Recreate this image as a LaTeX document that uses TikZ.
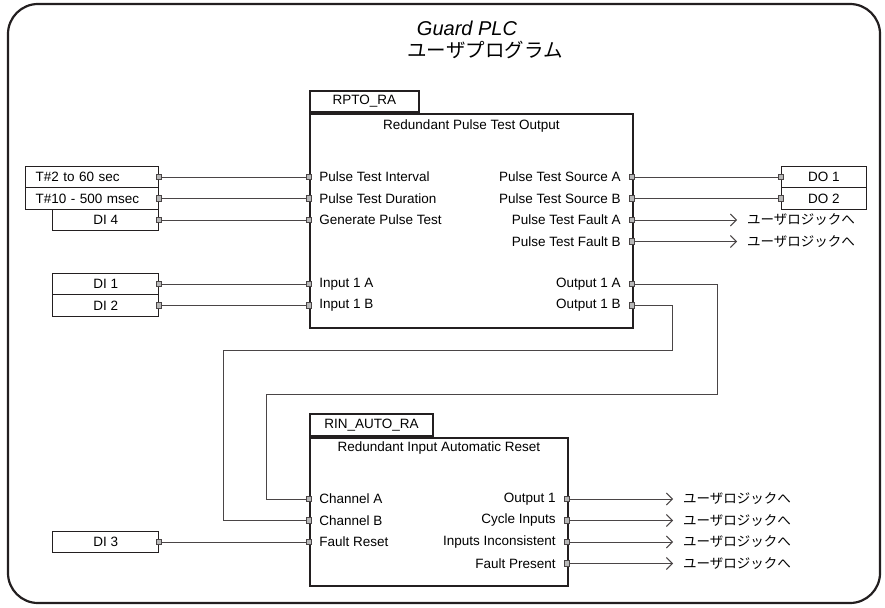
\documentclass[tikz,border=0pt]{standalone}
\usepackage{fontspec}
\setmainfont{Liberation Sans}
\newfontfamily\jpfont{Noto Sans CJK JP}
\usetikzlibrary{arrows.meta, positioning}
\definecolor{boxline}{HTML}{231F20}
\definecolor{wireline}{HTML}{4A4546}
\definecolor{pinfill}{HTML}{B8B8B8}
\tikzset{
  fbbox/.style={draw=boxline, line width=1.8pt, inner sep=0pt},
  iobox/.style={draw=boxline, line width=0.6pt, minimum height=21.5pt, inner sep=0pt, font=\fontsize{13.5}{15}\selectfont},
  pinsq/.style={draw=wireline, fill=pinfill, line width=0.6pt, minimum size=5.5pt, inner sep=0pt},
  wire/.style={draw=wireline, line width=0.9pt},
  tologic/.style={wire, -{Straight Barb[length=6pt, width=12pt, line width=0.9pt]}},
  lbl/.style={inner sep=0pt, font=\fontsize{13.5}{15}\selectfont},
  jplbl/.style={inner sep=0pt, font=\jpfont\fontsize{13.5}{15}\selectfont}
}

\begin{document}
\begin{tikzpicture}[x=1pt, y=-1pt]
  \useasboundingbox (0,0) rectangle (885,607);
  \draw[boxline, line width=2.2pt, rounded corners=30pt] (8,4) rectangle (880,603);
  \node[font=\itshape\fontsize{20}{22}\selectfont] (title) at (467,28) {Guard PLC};
  \node[font=\jpfont\fontsize{19.5}{22}\selectfont] (subtitle) at (485,50) {ユーザプログラム};

  % RPTO_RA block
  \node[fbbox, anchor=north west, minimum width=323pt, minimum height=214pt] (rpto) at (309,113) {};
  \node[fbbox, lbl, anchor=south west, minimum width=109pt, minimum height=21pt] (rptotab) at (rpto.north west) {RPTO\_RA};
  \node[lbl, below=7pt of rpto.north] (rptotitle) {Redundant Pulse Test Output};
  \foreach \y/\p/\t in {177/pti/Pulse Test Interval, 198.5/ptd/Pulse Test Duration, 220/gpt/Generate Pulse Test, 284/ina/Input 1 A, 305.5/inb/Input 1 B}{
    \node[pinsq] (\p) at (309,\y) {};
    \node[lbl, right=7pt of \p] (\p txt) {\t};
  }
  \foreach \y/\p/\t in {177/psa/Pulse Test Source A, 198.5/psb/Pulse Test Source B, 220/pfa/Pulse Test Fault A, 241.5/pfb/Pulse Test Fault B, 284/oa/Output 1 A, 305.5/ob/Output 1 B}{
    \node[pinsq] (\p) at (632,\y) {};
    \node[lbl, left=8pt of \p] (\p txt) {\t};
  }

  % RIN_AUTO_RA block
  \node[fbbox, anchor=north west, minimum width=258pt, minimum height=148pt] (rin) at (309,437) {};
  \node[fbbox, lbl, anchor=south west, minimum width=123pt, minimum height=22pt] (rintab) at (rin.north west) {RIN\_AUTO\_RA};
  \node[lbl, below=5pt of rin.north] (rintitle) {Redundant Input Automatic Reset};
  \foreach \y/\p/\t in {499/cha/Channel A, 520.5/chb/Channel B, 542/frs/Fault Reset}{
    \node[pinsq] (\p) at (309,\y) {};
    \node[lbl, right=7pt of \p] (\p txt) {\t};
  }
  \foreach \y/\p/\t in {499/out/Output 1, 520.5/cyc/Cycle Inputs, 542/inc/Inputs Inconsistent, 563.5/fpr/Fault Present}{
    \node[pinsq] (\p) at (567,\y) {};
    \node[lbl, left=8pt of \p] (\p txt) {\t};
  }

  % inputs
  \node[iobox, inner xsep=10pt, text width=113pt, align=left, anchor=east] (tint) at (159,177) {T\#2 to 60 sec};
  \node[iobox, inner xsep=10pt, text width=113pt, align=left, anchor=east] (tdur) at (159,198.5) {T\#10 - 500 msec};
  \node[iobox, minimum width=106pt, anchor=east] (di4) at (159,220) {DI 4};
  \node[iobox, minimum width=106pt, anchor=east] (di1) at (159,284) {DI 1};
  \node[iobox, minimum width=106pt, anchor=east] (di2) at (159,305.5) {DI 2};
  \node[iobox, minimum width=106pt, anchor=east] (di3) at (159,542) {DI 3};
  \foreach \b in {tint, tdur, di4, di1, di2, di3}
    \node[pinsq] (\b p) at (\b.east) {};

  % outputs
  \node[iobox, minimum width=85pt, anchor=west] (do1) at (781,177) {DO 1};
  \node[iobox, minimum width=85pt, anchor=west] (do2) at (781,198.5) {DO 2};
  \foreach \b in {do1, do2}
    \node[pinsq] (\b p) at (\b.west) {};

  \draw[wire] (tintp) -- (pti);
  \draw[wire] (tdurp) -- (ptd);
  \draw[wire] (di4p) -- (gpt);
  \draw[wire] (di1p) -- (ina);
  \draw[wire] (di2p) -- (inb);
  \draw[wire] (di3p) -- (frs);
  \draw[wire] (psa) -- (do1p);
  \draw[wire] (psb) -- (do2p);
  \draw[wire] (oa) -| (717,394) -- (266,394) |- (cha);
  \draw[wire] (ob) -| (672,350) -- (223,350) |- (chb);

  % to user logic
  \foreach \p/\x in {pfa/737, pfb/737, out/673, cyc/673, inc/673, fpr/673}{
    \coordinate (\p end) at (\x,0 |- \p);
    \draw[tologic] (\p) -- (\p end);
    \node[jplbl, right=10pt of \p end] (\p logic) {ユーザロジックへ};
  }
\end{tikzpicture}
\end{document}
